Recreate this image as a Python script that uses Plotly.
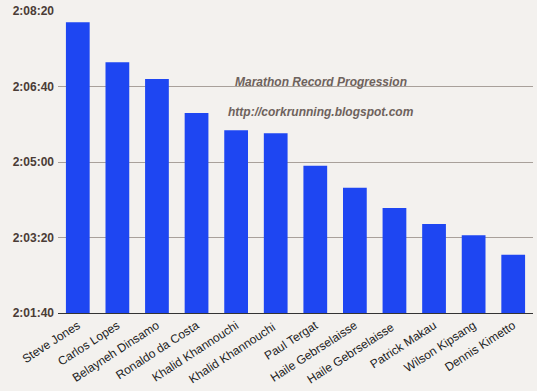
import plotly.graph_objects as go

runners = ["Steve Jones", "Carlos Lopes", "Belayneh Dinsamo", "Ronaldo da Costa",
           "Khalid Khannouchi", "Khalid Khannouchi ", "Paul Tergat", "Haile Gebrselaisse",
           "Haile Gebrselaisse ", "Patrick Makau", "Wilson Kipsang", "Dennis Kimetto"]
times = ["2:08:05", "2:07:12", "2:06:50", "2:06:05", "2:05:42", "2:05:38",
         "2:04:55", "2:04:26", "2:03:59", "2:03:38", "2:03:23", "2:02:57"]
tick_labels = ["2:01:40", "2:03:20", "2:05:00", "2:06:40", "2:08:20"]


def to_sec(t):
    h, m, s = (int(p) for p in t.split(":"))
    return h * 3600 + m * 60 + s


secs = [to_sec(t) for t in times]
tick_vals = [to_sec(t) for t in tick_labels]

fig = go.Figure(go.Bar(x=runners, y=secs, marker_color="#1e46f2", marker_line_width=0,
                       hovertext=times))

fig.update_layout(
    width=537, height=391,
    margin=dict(l=58, r=4, t=11, b=78, autoexpand=False),
    paper_bgcolor="#f3f1ee", plot_bgcolor="#f3f1ee",
    bargap=0.4, showlegend=False,
    font=dict(family="Arial, Liberation Sans, sans-serif"),
    xaxis=dict(tickangle=-33, tickfont=dict(size=12, color="#222222"), automargin=False,
               showline=True, linecolor="#333333", linewidth=1, ticks=""),
    yaxis=dict(range=[tick_vals[0], tick_vals[-1]], tickvals=tick_vals, ticktext=tick_labels,
               automargin=False, ticklabelstandoff=3,
               tickfont=dict(size=12, color="#4a3c36", family="Arial, Liberation Sans",
                             weight="bold"),
               showgrid=True, gridcolor="#a8a09a", gridwidth=1, zeroline=False, ticks=""),
    annotations=[
        dict(text="<b><i>Marathon Record Progression</i></b>", x=0.554, y=0.795,
             xref="paper", yref="paper", showarrow=False, font=dict(size=12, color="#6e625c")),
        dict(text="<b><i>http://corkrunning.blogspot.com</i></b>", x=0.554, y=0.695,
             xref="paper", yref="paper", showarrow=False, font=dict(size=12, color="#6e625c")),
    ],
)
fig.write_html("out.html", config={"displayModeBar": False},
               post_script="document.body.style.margin='0';"
                           "document.body.style.background='#f3f1ee';"
                           "document.body.style.overflow='hidden';")
